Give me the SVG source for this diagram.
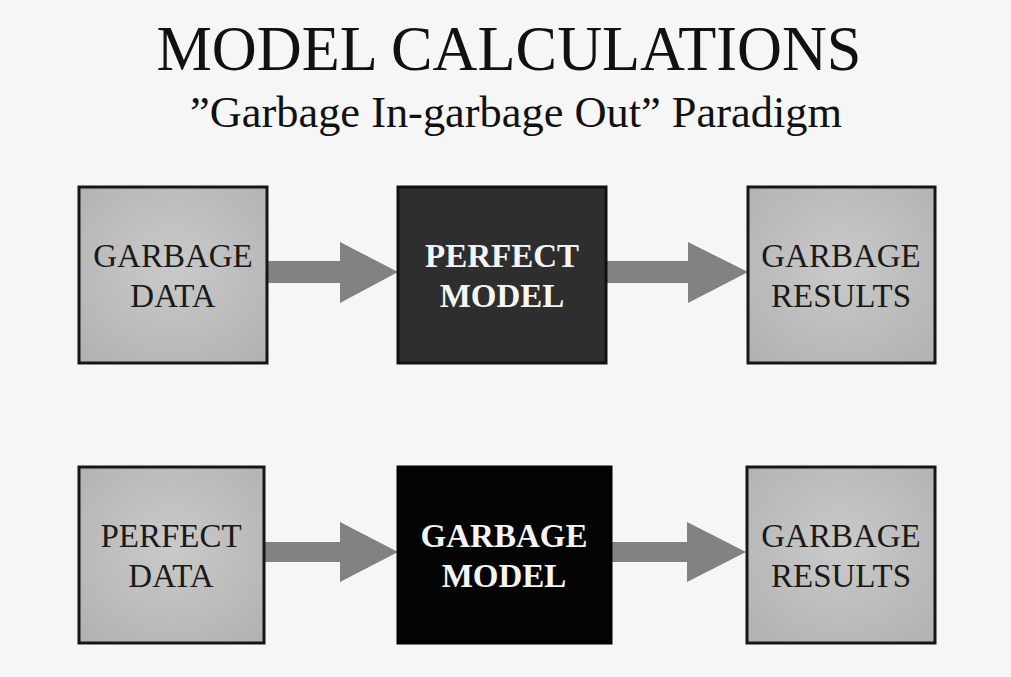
<svg xmlns="http://www.w3.org/2000/svg" width="1011" height="677" viewBox="0 0 1011 677">
<defs>
<radialGradient id="light" cx="50%" cy="45%" r="70%">
<stop offset="0" stop-color="#cacaca"/>
<stop offset="1" stop-color="#b2b2b2"/>
</radialGradient>
<style>
.box-l{fill:url(#light);stroke:#161616;stroke-width:3}
.box-d{fill:#2e2e2e;stroke:#111;stroke-width:3}
.box-k{fill:#040404;stroke:#000;stroke-width:3}
.t{font-family:"Liberation Serif","Times New Roman",serif;font-size:33px;text-anchor:middle}
.dark{fill:#1a1a1a}
.white{fill:#f4f4f4;font-weight:bold}
.arrow{fill:#828282}
</style>
</defs>
<rect width="1011" height="677" fill="#f6f6f6"/>
<text x="509" y="70" font-family="'Liberation Serif','Times New Roman',serif" font-size="63" text-anchor="middle" fill="#111" textLength="705" lengthAdjust="spacingAndGlyphs">MODEL CALCULATIONS</text>
<text x="516" y="127" font-family="'Liberation Serif','Times New Roman',serif" font-size="45" text-anchor="middle" fill="#111" textLength="652" lengthAdjust="spacingAndGlyphs">”Garbage In-garbage Out” Paradigm</text>
<g id="connectors">
<polygon class="arrow" points="267,261 340,261 340,242 398,272 340,303 340,283 267,283"/>
<polygon class="arrow" points="606,261 688,261 688,242 748,272 688,303 688,283 606,283"/>
<polygon class="arrow" points="264,542 340,542 340,522 398,552 340,582 340,562 264,562"/>
<polygon class="arrow" points="611,542 687,542 687,522 746,552 687,582 687,562 611,562"/>
</g>
<g id="garbage-data">
<rect class="box-l" x="79" y="187" width="188" height="176"/>
<text class="t dark" x="173" y="267">GARBAGE</text>
<text class="t dark" x="173" y="307">DATA</text>
</g>
<g id="perfect-model">
<rect class="box-d" x="398" y="187" width="208" height="176"/>
<text class="t white" x="502" y="267">PERFECT</text>
<text class="t white" x="502" y="307">MODEL</text>
</g>
<g id="garbage-results-1">
<rect class="box-l" x="748" y="187" width="187" height="176"/>
<text class="t dark" x="841" y="267">GARBAGE</text>
<text class="t dark" x="841" y="307">RESULTS</text>
</g>
<g id="perfect-data">
<rect class="box-l" x="79" y="467" width="185" height="176"/>
<text class="t dark" x="171" y="547">PERFECT</text>
<text class="t dark" x="171" y="587">DATA</text>
</g>
<g id="garbage-model">
<rect class="box-k" x="398" y="467" width="213" height="176"/>
<text class="t white" x="504" y="547">GARBAGE</text>
<text class="t white" x="504" y="587">MODEL</text>
</g>
<g id="garbage-results-2">
<rect class="box-l" x="747" y="467" width="188" height="176"/>
<text class="t dark" x="841" y="547">GARBAGE</text>
<text class="t dark" x="841" y="587">RESULTS</text>
</g>
</svg>
